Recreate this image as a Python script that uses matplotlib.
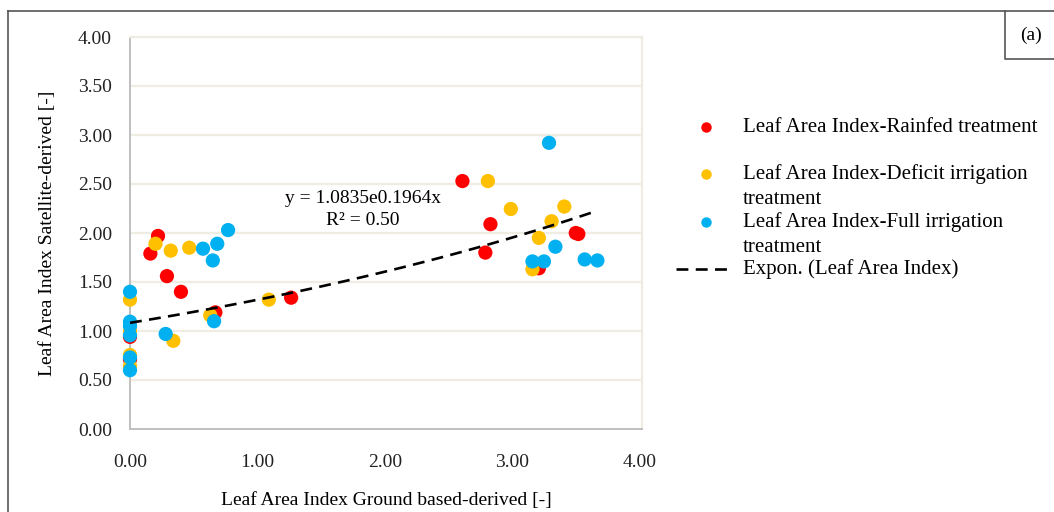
import numpy as np
import matplotlib
matplotlib.use('Agg')
import matplotlib.pyplot as plt
from matplotlib.lines import Line2D

plt.rcParams['font.family'] = ['Liberation Serif', 'DejaVu Serif']

# ground based LAI (x) vs satellite derived LAI (y) per treatment
rainfed_x = [0.00, 0.00, 0.16, 0.22, 0.29, 0.40, 0.67, 1.265, 2.61, 2.79, 2.83, 3.21, 3.50, 3.52]
rainfed_y = [0.94, 0.71, 1.79, 1.97, 1.56, 1.40, 1.19, 1.34, 2.53, 1.80, 2.09, 1.64, 2.00, 1.99]

deficit_x = [0.00, 0.00, 0.00, 0.00, 0.20, 0.32, 0.34, 0.465, 0.63, 1.09, 2.81, 2.99, 3.16, 3.21, 3.31, 3.41]
deficit_y = [1.32, 1.00, 0.755, 0.64, 1.89, 1.82, 0.90, 1.85, 1.16, 1.32, 2.53, 2.245, 1.63, 1.95, 2.12, 2.27]

full_x = [0.00, 0.00, 0.00, 0.00, 0.00, 0.00, 0.28, 0.573, 0.65, 0.66, 0.685, 0.77, 3.16, 3.25, 3.29, 3.34, 3.57, 3.67]
full_y = [1.40, 1.095, 1.05, 0.956, 0.73, 0.60, 0.97, 1.84, 1.72, 1.10, 1.89, 2.03, 1.71, 1.71, 2.92, 1.86, 1.73, 1.72]

# exponential trendline y = a * exp(b x)
trend_a = 1.0835
trend_b = 0.1964
r_squared = 0.50

series_labels = ['Leaf Area Index-Rainfed treatment',
                 'Leaf Area Index-Deficit irrigation\ntreatment',
                 'Leaf Area Index-Full irrigation\ntreatment',
                 'Expon. (Leaf Area Index)']
series_colors = ['#FF0000', '#FFC000', '#00B0F0']

ticks = [0.0, 0.5, 1.0, 1.5, 2.0, 2.5, 3.0, 3.5, 4.0]
fs = 14
leg_fs = 15


def fig_xy(px, py):
    return px / 1054, 1 - py / 512


def main():
    fig = plt.figure(figsize=(10.54, 5.12), dpi=100)
    ax = fig.add_axes([130 / 1054, 1 - 429 / 512, 512 / 1054, 392 / 512])

    grid_col = '#EEECE3'
    for t in ticks[1:]:
        ax.axhline(t, color=grid_col, lw=1.6, zorder=0)
    ax.set_xlim(0, 4.02)
    ax.set_ylim(0, 4)

    for xs, ys, c in zip([rainfed_x, deficit_x, full_x],
                         [rainfed_y, deficit_y, full_y], series_colors):
        ax.scatter(xs, ys, s=105, color=c, edgecolors='none', zorder=3, clip_on=False)

    all_x = rainfed_x + deficit_x + full_x
    xx = np.linspace(0, max(all_x), 100)
    ax.plot(xx, trend_a * np.exp(trend_b * xx), color='black', lw=1.9,
            dashes=(4.5, 2.8), zorder=4)

    ax.text(1.83, 2.24, 'y = %.4fe%.4fx\nR² = %.2f' % (trend_a, trend_b, r_squared),
            ha='center', va='center', fontsize=fs, linespacing=1.35, zorder=5)

    ax.set_xticks(ticks[::2])
    ax.set_xticklabels(['%.2f' % t for t in ticks[::2]])
    ax.set_yticks(ticks)
    ax.set_yticklabels(['%.2f' % t for t in ticks])
    ax.tick_params(length=0, labelsize=fs, colors='#222222')
    ax.tick_params(axis='y', pad=13)
    ax.tick_params(axis='x', pad=18)

    for side in ['top', 'right']:
        ax.spines[side].set_color(grid_col)
        ax.spines[side].set_linewidth(1.6)
    for side in ['left', 'bottom']:
        ax.spines[side].set_color('#BFBFBF')
        ax.spines[side].set_linewidth(1.4)

    ax.set_xlabel('Leaf Area Index Ground based-derived [-]', fontsize=fs, labelpad=15)
    ax.set_ylabel('Leaf Area Index Satellite-derived [-]', fontsize=fs, labelpad=16)

    # legend drawn by hand so markers line up with the first text line
    leg_y = [127, 174, 222, 269]
    for i, lab in enumerate(series_labels):
        if i < 3:
            mx, my = fig_xy(706, leg_y[i])
            fig.add_artist(Line2D([mx], [my], marker='o', ms=7.5, color=series_colors[i],
                                  mec='none', ls='none', transform=fig.transFigure))
        else:
            x0, my = fig_xy(676, leg_y[i])
            x1, _ = fig_xy(733, leg_y[i])
            fig.add_artist(Line2D([x0, x1], [my, my], color='black', lw=1.9,
                                  dashes=(4.5, 2.8), transform=fig.transFigure))
        for k, line in enumerate(lab.split('\n')):
            tx, ty = fig_xy(743, leg_y[i] + 25 * k)
            fig.text(tx, ty, line, ha='left', va='center', fontsize=leg_fs)

    # outer frame and panel label box
    frame = dict(color='#555555', lw=1.2, transform=fig.transFigure)
    xl, yt = fig_xy(8, 11)
    xb, yb = fig_xy(1005, 59)
    fig.add_artist(Line2D([xl, 1], [yt, yt], **frame))
    fig.add_artist(Line2D([xl, xl], [0, yt], **frame))
    fig.add_artist(Line2D([xb, xb, 1], [yt, yb, yb], **frame))
    lx, ly = fig_xy(1031, 35)
    fig.text(lx, ly, '(a)', ha='center', va='center', fontsize=fs)

    fig.savefig('out.png', dpi=100)


if __name__ == '__main__':
    main()
